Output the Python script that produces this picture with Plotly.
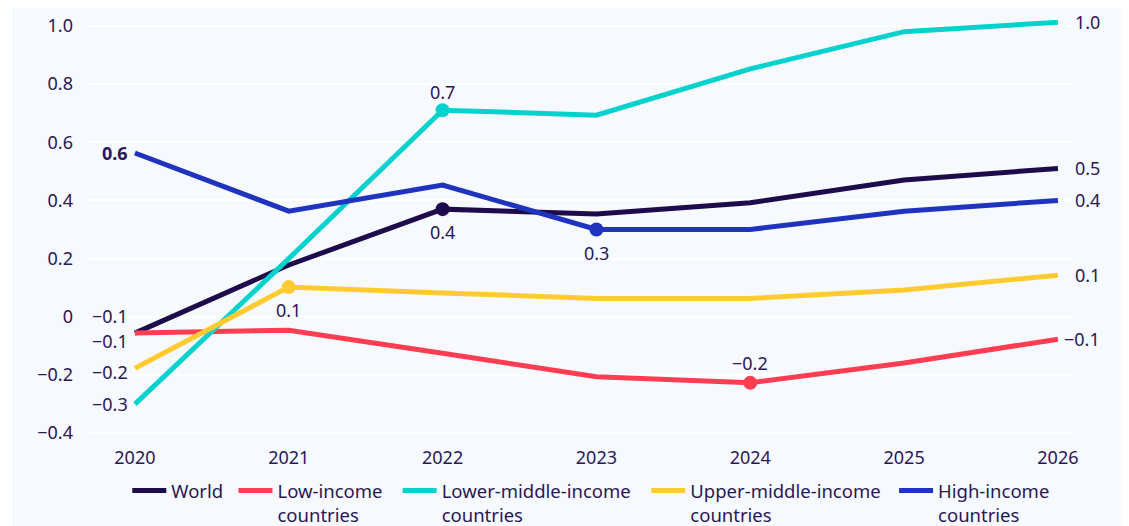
'''
Line chart of the yearly change per income group, 2020 to 2026.
Values are labelled at both ends of each line and at one highlighted point.
'''
import plotly.graph_objects as go


years = [2020, 2021, 2022, 2023, 2024, 2025, 2026]

world = [-0.056, 0.178, 0.370, 0.353, 0.392, 0.470, 0.510]
low_income = [-0.056, -0.046, -0.125, -0.206, -0.227, -0.159, -0.077]
lower_middle_income = [-0.300, 0.200, 0.710, 0.693, 0.852, 0.980, 1.012]
upper_middle_income = [-0.177, 0.102, 0.082, 0.063, 0.063, 0.092, 0.143]
high_income = [0.563, 0.363, 0.453, 0.300, 0.300, 0.363, 0.400]

series_names = [
    'World',
    'Low-income<br>countries',
    'Lower-middle-income<br>countries',
    'Upper-middle-income<br>countries',
    'High-income<br>countries',
]
series_values = [world, low_income, lower_middle_income, upper_middle_income, high_income]

# Year of the highlighted (dotted) point of each series.
highlight_years = [2022, 2024, 2022, 2021, 2023]

y_tick_values = [-0.4, -0.2, 0, 0.2, 0.4, 0.6, 0.8, 1.0]
y_tick_labels = ['\u22120.4', '\u22120.2', '0', '0.2', '0.4', '0.6', '0.8', '1.0']

# Styling.
colors = ['#1e0b4c', '#ff3d52', '#06d2cd', '#ffcb30', '#2033bf']
text_color = '#2a1855'
bg_color = '#f6f9fd'
font_family = 'Noto Sans, Open Sans, sans-serif'
# Vertical nudges of the start labels (pixels) so they do not collide.
start_label_shift = [17, -8, 0, -4, 0]
# Highlight label offsets (pixels), positive is above the point.
highlight_label_shift = [-23, 20, 18, -23, -23]
# Left edge of every legend entry (paper units), one legend per series.
legend_x = [0.040, 0.148, 0.315, 0.568, 0.820]


def fmt(value):
    '''Formats a value with one decimal and a typographic minus.'''
    text = f'{round(value, 1):.1f}'
    return text.replace('-', '\u2212')


fig = go.Figure()

for ix, (name, values, color) in enumerate(zip(series_names, series_values, colors)):
    fig.add_scatter(
        x=years, y=values, name=name, mode='lines',
        line=dict(color=color, width=5),
        legend='legend' if ix == 0 else f'legend{ix + 1}',
    )

annotations = []
for ix, (values, color) in enumerate(zip(series_values, colors)):
    # Highlighted point with its label.
    hx = years.index(highlight_years[ix])
    fig.add_scatter(
        x=[years[hx]], y=[values[hx]], mode='markers', showlegend=False,
        marker=dict(color=color, size=14),
    )
    annotations.append(dict(
        x=years[hx], y=values[hx], text=fmt(values[hx]), showarrow=False,
        yshift=highlight_label_shift[ix],
    ))
    # Label at the start of the line.
    annotations.append(dict(
        x=years[0], y=values[0], text=fmt(values[0]), showarrow=False,
        xanchor='right', xshift=-5, yshift=start_label_shift[ix],
        font=dict(weight='bold') if ix == 4 else None,
    ))
    # Label at the end of the line.
    annotations.append(dict(
        x=years[-1], y=values[-1], text=fmt(values[-1]), showarrow=False,
        xanchor='right', xshift=44,
    ))

legends = {}
for ix, lx in enumerate(legend_x):
    key = 'legend' if ix == 0 else f'legend{ix + 1}'
    legends[key] = dict(
        orientation='h', x=lx, xanchor='left', y=-0.0787, yanchor='top',
        valign='top', bgcolor='rgba(0,0,0,0)', font=dict(size=18.5),
        itemwidth=34,
    )

fig.update_layout(
    width=1129,
    height=526,
    # The page adds an 8px body margin, so the figure sits 8px right and down.
    margin=dict(l=80, r=66, t=12, b=95, autoexpand=False),
    paper_bgcolor=bg_color,
    plot_bgcolor=bg_color,
    font=dict(family=font_family, size=18, color=text_color),
    annotations=annotations,
    shapes=[dict(
        type='rect', xref='paper', yref='paper', layer='below',
        x0=-0.0814, x1=-0.0773, y0=-0.3, y1=1.1,
        fillcolor='white', line_width=0,
    )],
    showlegend=True,
    xaxis=dict(
        range=[2019.695, 2026.085], tickvals=years, showgrid=False,
        zeroline=False, ticks='', ticklabelstandoff=6,
    ),
    yaxis=dict(
        range=[-0.42, 1.02], tickvals=y_tick_values, ticktext=y_tick_labels,
        showgrid=True, gridcolor='white', gridwidth=2, zeroline=False,
        ticks='', ticklabelstandoff=14,
    ),
    **legends,
)

fig.write_html('out.html')
